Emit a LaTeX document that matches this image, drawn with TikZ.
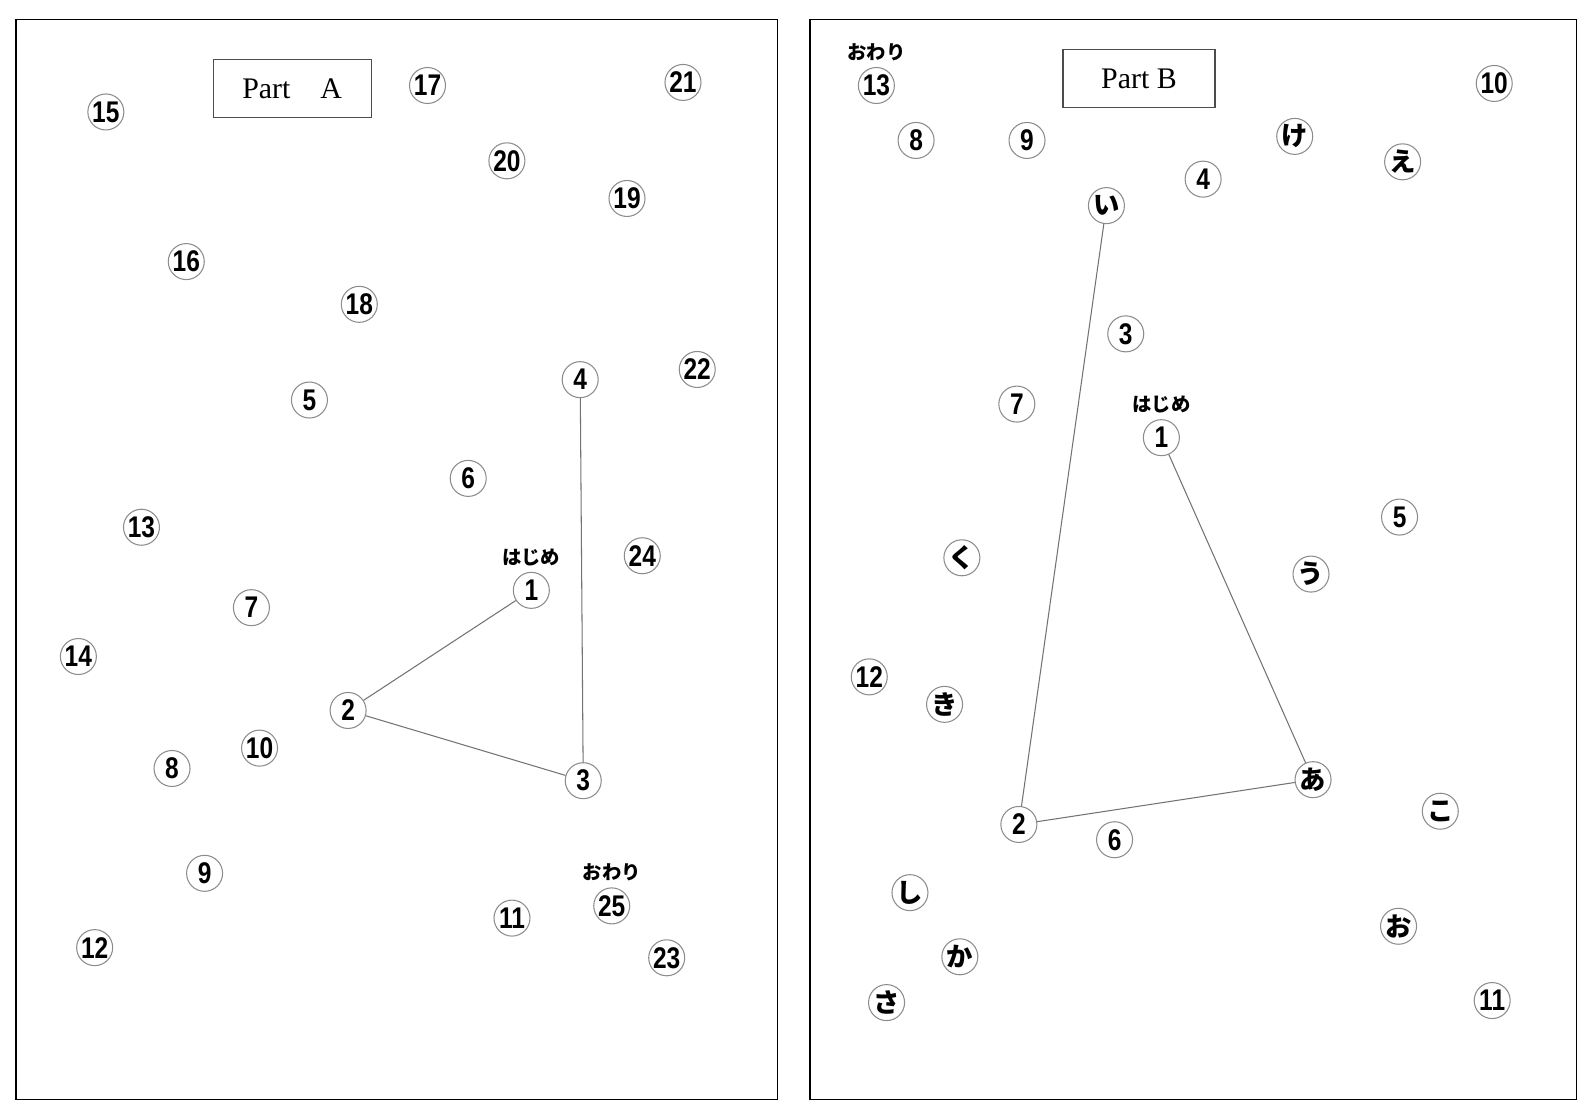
\documentclass[tikz,border=0pt]{standalone}
\usepackage{fontspec}
\usetikzlibrary{positioning}
\newfontfamily\numfont[FakeStretch=0.82]{Liberation Sans}
\newfontfamily\jpfont{Noto Sans CJK JP}
\newfontfamily\partfont{Liberation Serif}

\begin{document}
\begin{tikzpicture}[x=0.020357cm,y=-0.020357cm,panel/.style={draw=black,line width=0.9pt},dot/.style={circle,draw=black!45,line width=0.6pt,minimum size=0.72cm,inner sep=0pt,font=\numfont\bfseries\fontsize{17}{17}\selectfont},kana/.style={dot,font=\jpfont\bfseries\fontsize{15}{15}\selectfont},partbox/.style={draw=black!70,line width=0.6pt,minimum width=3.16cm,minimum height=1.16cm,font=\partfont\fontsize{17}{17}\selectfont},tag/.style={font=\jpfont\bfseries\fontsize{11}{11}\selectfont},trail/.style={draw=black!55,line width=0.6pt}]
\useasboundingbox (0,0) rectangle (1568,1096);
% frames
\draw[panel] (16,19) rectangle (764,1080);
\draw[panel] (796,19) rectangle (1549,1080);
% Part A
\node[partbox] (partA) at (287,87) {Part\quad A};
\foreach \n/\x/\y in {15/104/110,17/420/84,21/671/81,20/498/158,19/616/195,16/183/257,18/353/299,22/685/363,4/570/373,5/304/393,6/460/470,13/139/518,24/631/546,1/522/580,7/247/597,14/77/645,2/342/698,10/255/735,8/169/755,3/573/767,9/201/858,25/601/890,11/503/902,12/93/931,23/655/941}
  \node[dot] (a\n) at (\x,\y) {\n};
\node[tag,above=0pt of a1] (startA) {はじめ};
\node[tag,above=0pt of a25] (endA) {おわり};
\draw[trail] (a1) -- (a2) -- (a3) -- (a4);
% Part B
\node[partbox,minimum width=3.04cm] (partB) at (1119,77) {Part\ B};
\foreach \n/\x/\y in {13/861/84,10/1468/82,8/900/138,9/1009/138,4/1182/176,3/1106/328,7/999/397,1/1141/430,5/1375/508,12/854/665,2/1001/810,6/1095/825,11/1466/983}
  \node[dot] (b\n) at (\x,\y) {\n};
\foreach \n/\k/\x/\y in {ke/け/1272/134,e/え/1378/159,i/い/1087/202,ku/く/945/548,u/う/1288/564,ki/き/928/692,a/あ/1290/766,ko/こ/1415/797,shi/し/894/877,o/お/1374/910,ka/か/943/940,sa/さ/871/985}
  \node[kana] (b\n) at (\x,\y) {\k};
\node[tag,above=0pt of b1] (startB) {はじめ};
\node[tag,above=0pt of b13] (endB) {おわり};
\draw[trail] (b1) -- (ba) -- (b2) -- (bi);
\end{tikzpicture}
\end{document}
